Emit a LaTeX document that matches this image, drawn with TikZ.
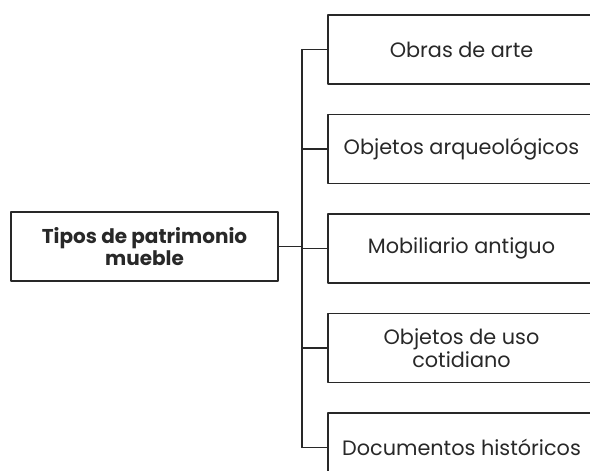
\documentclass[tikz,border=0pt]{standalone}
\usepackage{fontspec}
\setmainfont{Poppins}
\usetikzlibrary{positioning}
\definecolor{linea}{RGB}{40,40,40}
\tikzset{
  caja/.style={draw=linea,line width=0.65pt,minimum width=133.5pt,minimum height=34.5pt,
    align=center,inner sep=2pt,text=linea,font=\fontsize{10.4}{11.2}\selectfont},
  raiz/.style={caja,font=\bfseries\fontsize{10}{11.2}\selectfont},
  rama/.style={draw=linea,line width=0.65pt}
}

\begin{document}
\begin{tikzpicture}[line cap=round,line join=round,x=0.5pt,y=-0.5pt]
		\useasboundingbox (0,0) rectangle (590,471);
		\clip (0,0) rectangle (590,471);
		%%%%%%%%%%%%%%%%%%%%% R A I Z %%%%%%%%%%%%%%%%%%%%%
		\node[raiz] (tipos) at (144.5,246.5) {Tipos de patrimonio\\mueble};
		%%%% TIPOS
		\node[caja] (obras) at (461.5,49.5) {Obras de arte};
		\node[caja,below=14.6pt of obras] (objetos) {Objetos arqueológicos};
		\node[caja,below=14.6pt of objetos] (mobiliario) {Mobiliario antiguo};
		\node[caja,below=14.6pt of mobiliario] (cotidiano) {Objetos de uso\\cotidiano};
		\node[caja,below=14.6pt of cotidiano] (documentos) {Documentos históricos};
		%TRONCO
		\coordinate (tronco) at (302,246.5);
		\draw[rama] (tipos.east) -- (tronco);
		\draw[rama] (tronco |- obras.west) -- (tronco |- documentos.west);
		%%%% RAMAS
		\foreach \t in {obras,objetos,mobiliario,cotidiano,documentos}
			\draw[rama] (tronco |- \t.west) -- (\t.west);
	\end{tikzpicture}
\end{document}
